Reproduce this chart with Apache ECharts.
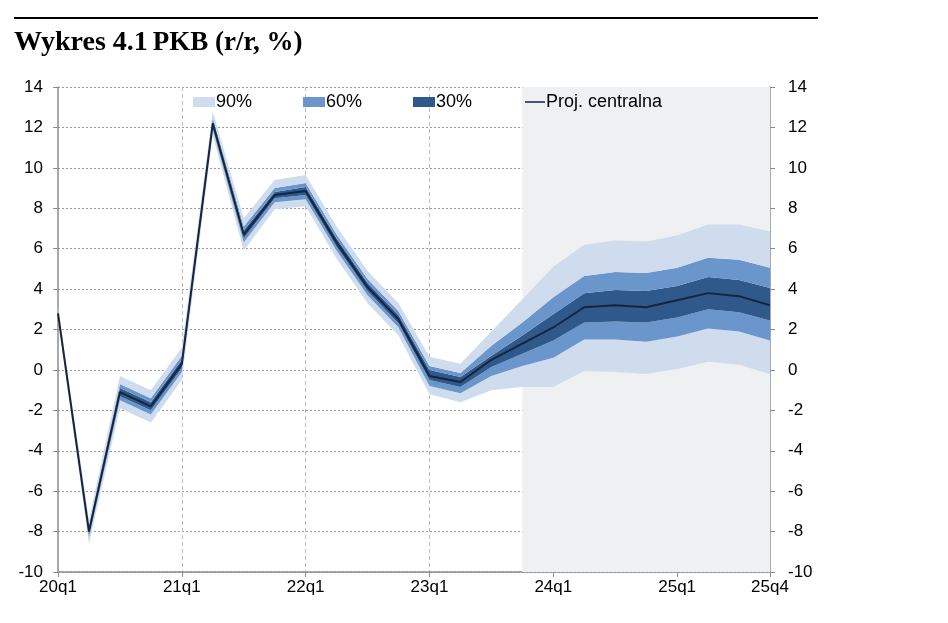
<!DOCTYPE html>
<html>
<head>
<meta charset="utf-8">
<script src="https://cdn.jsdelivr.net/npm/echarts@6/dist/echarts.min.js"></script>
<style>html,body{margin:0;padding:0;background:#fff}#c{width:948px;height:623px}</style>
</head>
<body>
<div id="c"></div>
<script>
var categories = ['20q1','20q2','20q3','20q4','21q1','21q2','21q3','21q4','22q1','22q2','22q3','22q4',
                  '23q1','23q2','23q3','23q4','24q1','24q2','24q3','24q4','25q1','25q2','25q3','25q4'];
var central = [2.8, -8.0, -1.1, -1.8, 0.3, 12.2, 6.7, 8.65, 8.85, 6.3, 4.1, 2.5, -0.3, -0.6, 0.5, 1.3, 2.1, 3.1, 3.2, 3.1, 3.45, 3.8, 3.65, 3.2];
var lo90 = [2.5, -8.6, -1.9, -2.6, -0.5, 11.6, 5.9, 7.95, 8.1, 5.5, 3.3, 1.7, -1.2, -1.6, -1.0, -0.85, -0.85, -0.05, -0.1, -0.2, 0.05, 0.4, 0.25, -0.2];
var lo60 = [2.65, -8.3, -1.5, -2.2, -0.1, 11.9, 6.3, 8.3, 8.45, 5.9, 3.7, 2.1, -0.8, -1.15, -0.3, 0.2, 0.6, 1.5, 1.5, 1.4, 1.65, 2.05, 1.9, 1.45];
var lo30 = [2.72, -8.15, -1.3, -2.0, 0.1, 12.05, 6.5, 8.5, 8.65, 6.1, 3.9, 2.3, -0.5, -0.85, 0.15, 0.8, 1.45, 2.35, 2.4, 2.35, 2.6, 3.0, 2.85, 2.45];
var hi30 = [2.88, -7.85, -0.9, -1.6, 0.5, 12.35, 6.9, 8.8, 9.05, 6.5, 4.3, 2.7, 0.0, -0.35, 0.7, 1.7, 2.75, 3.8, 3.95, 3.9, 4.15, 4.6, 4.45, 4.05];
var hi60 = [2.95, -7.7, -0.7, -1.4, 0.7, 12.5, 7.1, 9.0, 9.25, 6.7, 4.5, 2.9, 0.2, -0.15, 1.2, 2.35, 3.6, 4.65, 4.85, 4.8, 5.05, 5.55, 5.45, 5.05];
var hi90 = [3.1, -7.4, -0.3, -1.0, 1.1, 12.8, 7.5, 9.4, 9.65, 7.1, 4.9, 3.3, 0.65, 0.3, 1.9, 3.5, 5.1, 6.2, 6.4, 6.35, 6.65, 7.2, 7.2, 6.85];
var yMin = -10, yMax = 14, yStep = 2;
var forecastStart = '23q4', forecastEnd = '25q4';
var shownLabels = ['20q1','21q1','22q1','23q1','24q1','25q1','25q4'];
var legendNames = ['90%','60%','30%','Proj. centralna'];

var C90 = '#cfdcee', C60 = '#6a96cc', C30 = '#2f588b', CLINE = '#17253c';

function diff(a, b) { return a.map(function (v, i) { return +(v - b[i]).toFixed(4); }); }

function band(name, data, color, extra) {
  var s = {
    name: name, type: 'line', stack: 'fan', stackStrategy: 'all', data: data,
    symbol: 'none', showSymbol: false, silent: true,
    lineStyle: { width: 0, opacity: 0 },
    itemStyle: { color: color },
    areaStyle: { color: color, opacity: 1 },
    z: 2
  };
  if (extra) for (var k in extra) s[k] = extra[k];
  return s;
}

var labelSet = {};
shownLabels.forEach(function (l) { labelSet[l] = true; });

var chart = echarts.init(document.getElementById('c'), null, { renderer: 'canvas' });
var axisLabelFont = { fontFamily: 'Liberation Sans, Arial, sans-serif', fontSize: 17, color: '#000' };
var legendText = { fontFamily: 'Liberation Sans, Arial, sans-serif', fontSize: 18, color: '#000' };

function legendAt(left, name, opts) {
  var l = {
    left: left, top: 93, padding: 0,
    itemWidth: 22, itemHeight: 10, itemGap: 0,
    selectedMode: false,
    textStyle: Object.assign({ padding: [0, 0, 0, -4] }, legendText),
    data: [{ name: name, icon: 'rect' }]
  };
  if (opts) for (var k in opts) l[k] = opts[k];
  return l;
}

chart.setOption({
  animation: false,
  backgroundColor: '#fff',
  title: {
    left: 9, top: 24,
    text: '{b|Wykres 4.1} {r|PKB (r/r, %)}',
    textStyle: {
      rich: {
        b: { fontFamily: 'Liberation Serif, serif', fontWeight: 'bold', fontSize: 28, color: '#000' },
        r: { fontFamily: 'Liberation Serif, serif', fontSize: 27, color: '#000' }
      }
    }
  },
  graphic: [{
    type: 'line', shape: { x1: 14, y1: 18, x2: 818, y2: 18 },
    style: { stroke: '#000', lineWidth: 2 }
  }],
  legend: [
    legendAt(193, legendNames[0]),
    legendAt(303, legendNames[1]),
    legendAt(413, legendNames[2]),
    legendAt(525, legendNames[3], { itemWidth: 20, itemHeight: 1.5 })
  ],
  grid: { left: 58, right: 178, top: 87, bottom: 51, containLabel: false },
  xAxis: {
    type: 'category', data: categories, boundaryGap: false,
    axisLine: { onZero: false, lineStyle: { color: '#8c8c8c', width: 1.5 } },
    axisTick: { show: true, length: 5, lineStyle: { color: '#8c8c8c' },
      interval: function (i, v) { return !!labelSet[v]; } },
    axisLabel: Object.assign({ margin: 7,
      interval: function (i, v) { return !!labelSet[v]; } }, axisLabelFont),
    splitLine: { show: true, lineStyle: { color: '#bdbdbd', type: [4, 3], width: 1 },
      interval: function (i, v) { return i % 4 === 0 && i > 0; } }
  },
  yAxis: [{
    type: 'value', min: yMin, max: yMax, interval: yStep, position: 'left',
    axisLine: { show: true, lineStyle: { color: '#8c8c8c', width: 1.5 } },
    axisTick: { show: true, length: 5, lineStyle: { color: '#8c8c8c' } },
    axisLabel: Object.assign({ margin: 15 }, axisLabelFont),
    splitLine: { show: true, lineStyle: { color: '#9a9a9a', type: [2, 2], width: 1 } }
  }, {
    type: 'value', min: yMin, max: yMax, interval: yStep, position: 'right',
    axisLine: { show: true, lineStyle: { color: '#8c8c8c', width: 1.5 } },
    axisTick: { show: true, length: 5, lineStyle: { color: '#8c8c8c' } },
    axisLabel: Object.assign({ margin: 18 }, axisLabelFont),
    splitLine: { show: false }
  }],
  series: [
    band('base', lo90, 'rgba(0,0,0,0)', {
      areaStyle: { color: 'rgba(0,0,0,0)', opacity: 0 },
      markArea: {
        silent: true,
        itemStyle: { color: '#eff0f2' },
        data: [[{ xAxis: forecastStart }, { xAxis: forecastEnd }]]
      },
      z: 1
    }),
    band('90%', diff(lo60, lo90), C90),
    band('60%', diff(lo30, lo60), C60),
    band('30%', diff(hi30, lo30), C30),
    band('60%', diff(hi60, hi30), C60),
    band('90%', diff(hi90, hi60), C90),
    {
      name: 'Proj. centralna', type: 'line', data: central,
      symbol: 'none', showSymbol: false, silent: true,
      itemStyle: { color: CLINE },
      lineStyle: { color: CLINE, width: 2 },
      z: 5
    }
  ]
});
</script>
</body>
</html>
